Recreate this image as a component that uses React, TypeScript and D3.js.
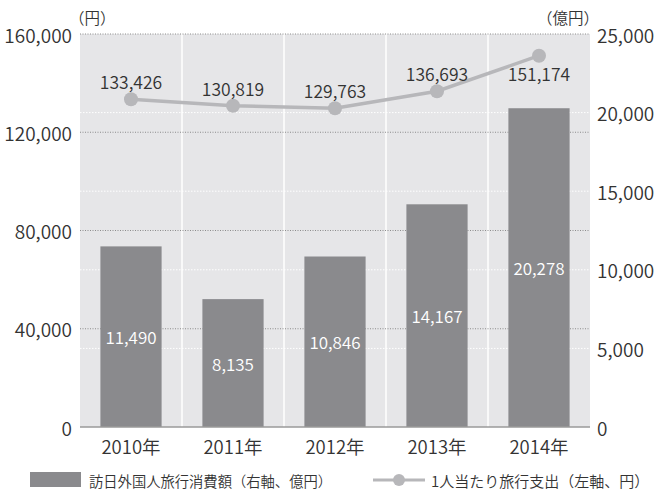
import React from "react";
import * as d3 from "d3";

const years = ["2010年", "2011年", "2012年", "2013年", "2014年"];
const spending = [11490, 8135, 10846, 14167, 20278]; // 億円 (right axis)
const perPerson = [133426, 130819, 129763, 136693, 151174]; // 円 (left axis)
const leftTicks = [0, 40000, 80000, 120000, 160000];
const rightTicks = [0, 5000, 10000, 15000, 20000, 25000];
const legendBar = "訪日外国人旅行消費額（右軸、億円）";
const legendLine = "1人当たり旅行支出（左軸、円）";

const W = 654;
const H = 492;
const M = { left: 80, right: 590, top: 34, bottom: 427 };
const FONT = "'Noto Sans CJK JP', 'Noto Sans', sans-serif";
const TXT = "#333333";
const BAR = "#8a8a8d";
const LINE = "#b7b7ba";
const BG = "#e6e6e8";

export default function App() {
  const x = d3.scaleBand<string>().domain(years).range([M.left, M.right]).padding(0);
  const yL = d3.scaleLinear().domain([0, 160000]).range([M.bottom, M.top]);
  const yR = d3.scaleLinear().domain([0, 25000]).range([M.bottom, M.top]);
  const fmt = d3.format(",");
  const bw = x.bandwidth() * 0.6;
  const cx = (d: string) => (x(d) as number) + x.bandwidth() / 2;
  const line = d3
    .line<number>()
    .x((_, i) => cx(years[i]))
    .y((d) => yL(d));

  return (
    <div style={{ position: "absolute", left: 0, top: 0 }}>
      <svg width={W} height={H} style={{ display: "block", fontFamily: FONT, fontWeight: 350 }}>
        <rect x={M.left} y={M.top} width={M.right - M.left} height={M.bottom - M.top} fill={BG} />
        {/* vertical separators */}
        {years.slice(1).map((d) => (
          <line key={d} x1={x(d)} x2={x(d)} y1={M.top} y2={M.bottom} stroke="#ffffff" strokeWidth={1.5} />
        ))}
        {/* right-axis grid (white dotted) */}
        {rightTicks.slice(1, -1).map((t) => (
          <line key={"r" + t} x1={M.left} x2={M.right} y1={yR(t)} y2={yR(t)} stroke="#ffffff" strokeWidth={1} strokeDasharray="1.5,1.5" />
        ))}
        {/* left-axis grid (gray dotted) */}
        {leftTicks.slice(1).map((t) => (
          <line key={"l" + t} x1={M.left} x2={M.right} y1={yL(t)} y2={yL(t)} stroke="#8c8c8c" strokeWidth={1} strokeDasharray="1,1.5" />
        ))}
        {/* bars */}
        {spending.map((v, i) => (
          <rect key={"b" + i} x={cx(years[i]) - bw / 2} y={yR(v)} width={bw} height={yR(0) - yR(v)} fill={BAR} />
        ))}
        {spending.map((v, i) => (
          <text key={"bl" + i} x={cx(years[i])} y={(yR(v) + yR(0)) / 2} fill="#ffffff" fontSize={17} textAnchor="middle" dominantBaseline="central">
            {fmt(v)}
          </text>
        ))}
        {/* baseline */}
        <line x1={M.left} x2={M.right} y1={M.bottom} y2={M.bottom} stroke="#9a9a9a" strokeWidth={1.5} />
        {/* line series */}
        <path d={line(perPerson) || ""} fill="none" stroke={LINE} strokeWidth={3.5} />
        {perPerson.map((v, i) => (
          <circle key={"c" + i} cx={cx(years[i])} cy={yL(v)} r={7} fill={LINE} />
        ))}
        {perPerson.map((v, i) => (
          <text key={"ll" + i} x={cx(years[i])} y={yL(v) + (i === perPerson.length - 1 ? 17.5 : -17.5)} fill={TXT} fontSize={17.5} textAnchor="middle" dominantBaseline="central">
            {fmt(v)}
          </text>
        ))}
        {/* left axis labels */}
        {leftTicks.map((t) => (
          <text key={"lt" + t} x={72} y={yL(t)} fill={TXT} fontSize={19} textAnchor="end" dominantBaseline="central">
            {fmt(t)}
          </text>
        ))}
        {/* right axis labels */}
        {rightTicks.map((t) => (
          <text key={"rt" + t} x={597} y={yR(t)} fill={TXT} fontSize={19} textAnchor="start" dominantBaseline="central">
            {fmt(t)}
          </text>
        ))}
        {/* unit labels */}
        <text x={69} y={17} fill={TXT} fontSize={15.5} dominantBaseline="central">（円）</text>
        <text x={599} y={17} fill={TXT} fontSize={15.5} textAnchor="end" dominantBaseline="central">（億円）</text>
        {/* x labels */}
        {years.map((d) => (
          <text key={"x" + d} x={cx(d)} y={446} fill={TXT} fontSize={18.5} textAnchor="middle" dominantBaseline="central">
            {d}
          </text>
        ))}
        {/* legend */}
        <rect x={30} y={472} width={51} height={15} fill={BAR} />
        <text x={89} y={480} fill={TXT} fontSize={14.3} dominantBaseline="central">{legendBar}</text>
        <line x1={373} x2={425} y1={480} y2={480} stroke={LINE} strokeWidth={3} />
        <circle cx={399} cy={480} r={6} fill={LINE} />
        <text x={431} y={480} fill={TXT} fontSize={15} dominantBaseline="central">{legendLine}</text>
      </svg>
    </div>
  );
}
